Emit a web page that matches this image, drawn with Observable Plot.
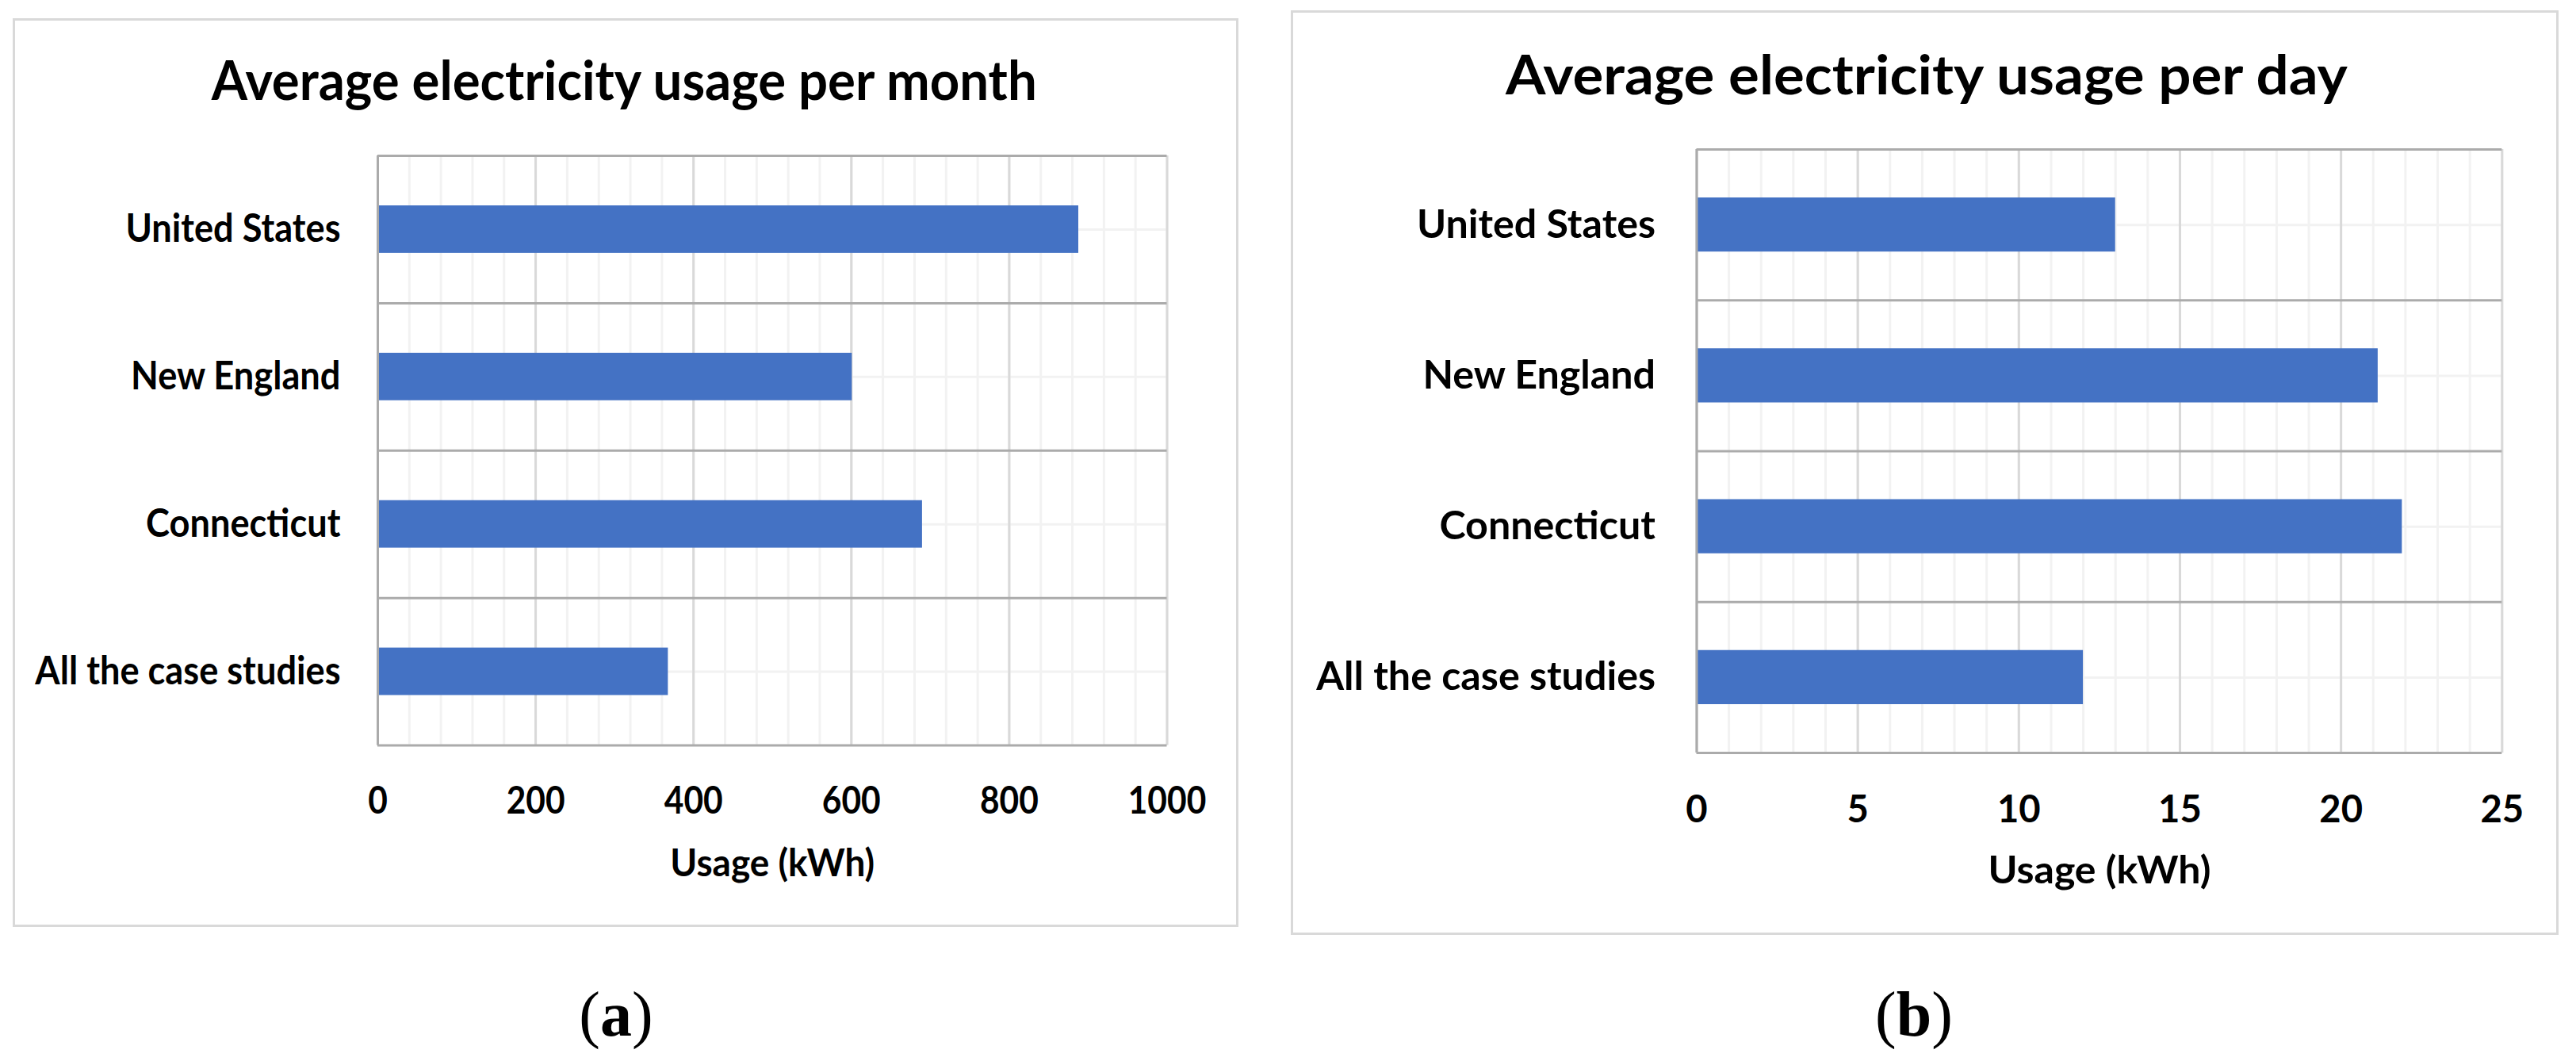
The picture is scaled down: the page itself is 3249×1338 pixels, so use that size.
<!DOCTYPE html>
<html>
<head>
<meta charset="utf-8">
<script src="https://cdn.jsdelivr.net/npm/d3@7"></script>
<script src="https://cdn.jsdelivr.net/npm/@observablehq/plot@0.6"></script>
<style>
  html, body { margin: 0; padding: 0; background: #fff; }
  body { width: 3249px; height: 1338px; position: relative; overflow: hidden; font-family: Lato, "Open Sans", sans-serif; }
  .panel { position: absolute; border: 3px solid #d9d9d9; box-sizing: border-box; background: #fff; }
  .cap { position: absolute; width: 200px; text-align: center; font-family: "Liberation Serif", "Times New Roman", serif; font-size: 80px; line-height: 80px; color: #000; }
  .cap b { font-weight: bold; }
</style>
</head>
<body>
<div id="panelA" class="panel" style="left:16px; top:23px; width:1546px; height:1146px;"></div>
<div id="panelB" class="panel" style="left:1628px; top:13px; width:1599px; height:1166px;"></div>
<div class="cap" style="left:677px; top:1239px;">(<b>a</b>)</div>
<div class="cap" style="left:2314px; top:1239px;">(<b>b</b>)</div>
<script>
// ---- data ----
const categories = ["United States", "New England", "Connecticut", "All the case studies"];
const monthUsage = [888, 601, 690, 368];
const dayUsage = [13.0, 21.15, 21.9, 12.0];
const monthTicks = [0, 200, 400, 600, 800, 1000];
const dayTicks = [0, 5, 10, 15, 20, 25];
const monthMinorStep = 40;
const dayMinorStep = 1;
const titleMonth = "Average electricity usage per month";
const titleDay = "Average electricity usage per day";
const axisTitle = "Usage (kWh)";

function makeChart(cfg) {
  const rows = categories.map((c, i) => ({c, i, v: cfg.values[i]}));
  const maxV = cfg.ticks[cfg.ticks.length - 1];
  const minor = d3.range(0, maxV + cfg.minorStep / 2, cfg.minorStep);
  const bounds = d3.range(0, categories.length + 1);
  const centers = categories.map((c, i) => i + 0.5);
  return Plot.plot({
    width: cfg.width,
    height: cfg.height,
    marginLeft: cfg.ml, marginRight: cfg.mr, marginTop: cfg.mt, marginBottom: cfg.mb,
    x: {domain: [0, maxV]},
    y: {domain: [0, categories.length], reverse: true},
    style: {fontFamily: "Lato, 'Open Sans', sans-serif", fontWeight: "bold", color: "#000", background: "transparent", overflow: "visible"},
    marks: [
      Plot.ruleX(minor, {stroke: "#f2f2f2", strokeWidth: 3}),
      Plot.ruleY(centers, {stroke: "#f2f2f2", strokeWidth: 3}),
      Plot.ruleX(cfg.ticks, {stroke: "#d9d9d9", strokeWidth: 3}),
      Plot.rectX(rows, {x1: d => 0, x2: "v", y1: "i", y2: d => d.i + 1, insetTop: cfg.inset, insetBottom: cfg.inset, fill: "#4472C4"}),
      Plot.ruleY(bounds, {stroke: "#ababab", strokeWidth: 3}),
      Plot.ruleX([0], {stroke: "#ababab", strokeWidth: 3}),
      Plot.axisX({ticks: cfg.ticks, tickFormat: d => `${d}`, tickSize: 0, tickPadding: cfg.xPad, fontSize: 47, label: null}),
      Plot.axisY({ticks: centers, tickFormat: d => categories[Math.floor(d)], tickSize: 0, tickPadding: cfg.yPad, fontSize: 50, label: null}),
      Plot.text([cfg.title], {text: d => d, frameAnchor: "top", lineAnchor: "top", dx: cfg.tdx, dy: cfg.tdy, fontSize: 68, fontWeight: "bold", fill: "#000"}),
      Plot.text([axisTitle], {text: d => d, frameAnchor: "bottom", lineAnchor: "top", dy: cfg.ady, fontSize: 47, fontWeight: "bold", fill: "#000"})
    ]
  });
}

// horizontally fit text to the reference widths (the source figure is narrower than any installed font)
function fitText(svg, targets, refLabel) {
  const texts = [...svg.querySelectorAll("text")];
  const tRef = texts.find(t => t.textContent === refLabel);
  const fL = tRef ? targets[refLabel] / tRef.getComputedTextLength() : 1;
  for (const t of texts) {
    const w = t.getComputedTextLength();
    if (!(w > 0)) continue;
    const target = targets[t.textContent] !== undefined ? targets[t.textContent] : w * fL;
    t.setAttribute("textLength", target.toFixed(2));
    t.setAttribute("lengthAdjust", "spacingAndGlyphs");
  }
}

const svgA = makeChart({
  values: monthUsage, ticks: monthTicks, minorStep: monthMinorStep, title: titleMonth,
  width: 1540, height: 1140, ml: 457, mr: 87.5, mt: 170, mb: 226.5,
  inset: 63, xPad: 52.5, yPad: 47, tdx: -187, tdy: -119, ady: 132
});
document.getElementById("panelA").appendChild(svgA);
fitText(svgA, {[titleMonth]: 1041, "United States": 271, [axisTitle]: 258}, "United States");

const svgB = makeChart({
  values: dayUsage, ticks: dayTicks, minorStep: dayMinorStep, title: titleDay,
  width: 1593, height: 1160, ml: 508.5, mr: 68.7, mt: 172, mb: 227,
  inset: 61, xPad: 54, yPad: 52, tdx: -218, tdy: -118, ady: 131
});
document.getElementById("panelB").appendChild(svgB);
fitText(svgB, {[titleDay]: 1062, "United States": 301, [axisTitle]: 281}, "United States");
</script>
</body>
</html>
